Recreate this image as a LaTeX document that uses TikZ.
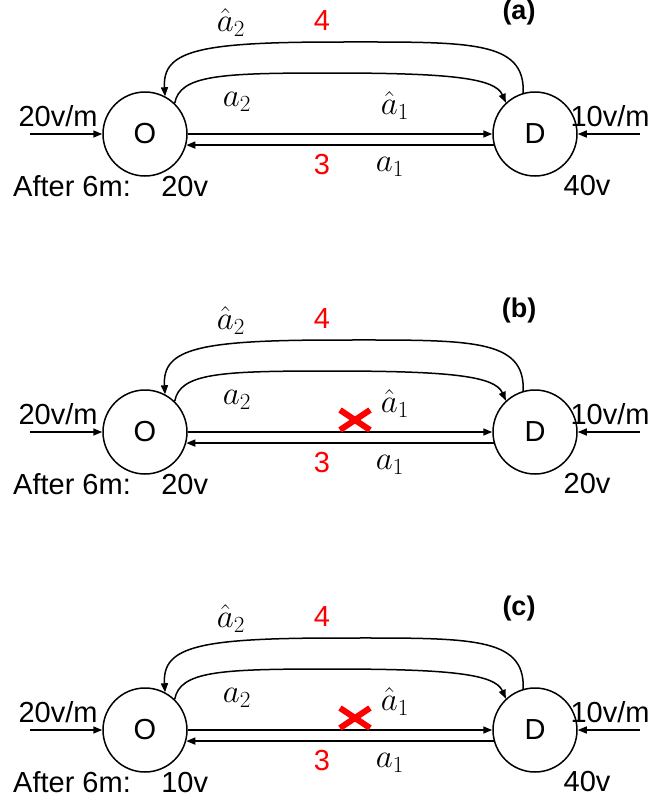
\RequirePackage{fix-cm}
\documentclass[tikz,border=0pt]{standalone}
\usepackage[no-math]{fontspec}
\setmainfont{Liberation Sans}
\usepackage{amsmath}
\usetikzlibrary{arrows.meta, shapes.misc}

\tikzset{
  city/.style={circle, draw, line width=1.5pt, minimum size=84pt, inner sep=0pt, font=\fontsize{29}{34}\selectfont},
  link/.style={line width=1.5pt, -{Triangle[length=9pt, width=7pt]}},
  lbl/.style={inner sep=0pt, font=\fontsize{29}{34}\selectfont},
  sym/.style={inner sep=0pt, font=\fontsize{33}{38}\selectfont},
  cost/.style={lbl, text=red},
  cut/.style={cross out, draw=red, line width=6pt, minimum width=24pt, minimum height=14pt, inner sep=0pt},
}

\begin{document}
\begin{tikzpicture}[x=1pt, y=-1pt]
    \useasboundingbox (0,0) rectangle (652,803);

    \foreach \dy/\tag/\vo/\vd/\blocked in {0/a/20v/40v/0, 298/b/20v/20v/1, 596/c/10v/40v/1}{
    \begin{scope}[shift={(0,\dy)}]
        % Nodes
        \node[city] (O\tag) at (145,134) {O};
        \node[city] (D\tag) at (535,134) {D};
        \coordinate (inO\tag) at (30,134);
        \coordinate (inD\tag) at (640,134);

        % Demand
        \draw[link] (inO\tag) -- (O\tag);
        \draw[link] (inD\tag) -- (D\tag);

        % Direct route
        \draw[link] (O\tag) -- (D\tag);
        \draw[link] (D\tag.195) -- (O\tag.-15);

        % Detour route
        \draw[link] (O\tag.46) .. controls (180,75) and (220,73) .. (330,73)
            .. controls (450,73) and (495,78) .. (D\tag.133);
        \draw[link] (D\tag.106) .. controls (525,40) and (470,42) .. (340,42)
            .. controls (200,42) and (162,50) .. (O\tag.62);

        % Labels
        \node[lbl] (dO\tag) at (58,116) {20v/m};
        \node[lbl] (dD\tag) at (610,116) {10v/m};
        \node[lbl, anchor=west] (tO\tag) at (13,186) {After 6m:\hspace{1.05em}\vo};
        \node[lbl] (tD\tag) at (587,186) {\vd};
        \node[sym] (ah2\tag) at (231,23) {$\hat{a}_2$};
        \node[cost] (c4\tag) at (322,21) {4};
        \node[lbl, font=\fontsize{27}{32}\selectfont\bfseries] (p\tag) at (519,13) {(\tag)};
        \node[sym] (a2\tag) at (237,102) {$a_2$};
        \node[sym] (ah1\tag) at (395,106) {$\hat{a}_1$};
        \node[cost] (c3\tag) at (322,165) {3};
        \node[sym] (a1\tag) at (390,167) {$a_1$};

        % Closed link
        \ifnum\blocked=1
            \node[cut] (x\tag) at (355,122) {};
        \fi
    \end{scope}
    }
\end{tikzpicture}
\end{document}
